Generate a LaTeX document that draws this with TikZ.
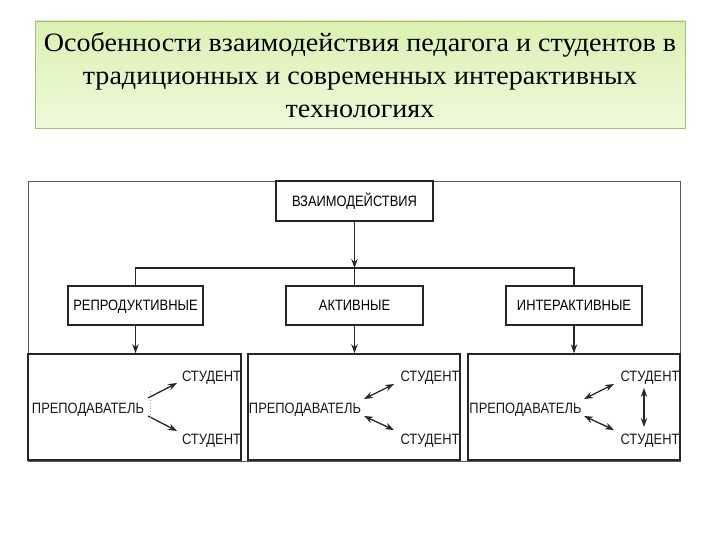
\documentclass[tikz,border=0pt]{standalone}
\usepackage{fontspec}
\setmainfont{Liberation Serif}
\newfontfamily\labfont[FakeStretch=0.86]{Liberation Sans}
\newfontfamily\ttlfont[FakeStretch=1.06]{Liberation Serif}
\usetikzlibrary{arrows.meta}
\definecolor{titletop}{HTML}{DAF1B2}
\definecolor{titlebot}{HTML}{EEFADA}
\definecolor{titleedge}{HTML}{A9BF78}
\definecolor{boxline}{HTML}{262626}
\begin{document}
\begin{tikzpicture}[x=1pt,y=-1pt,
  box/.style={draw=boxline,line width=1.6pt,rectangle,inner sep=0pt,text height=10.7pt,text depth=0pt,font=\labfont\fontsize{15}{17}\selectfont},
  lab/.style={inner sep=0pt,text height=10.7pt,text depth=0pt,font=\labfont\fontsize{15}{17}\selectfont,text=black!90},
  conn/.style={draw=black!85,line width=1.3pt},
  tip/.style={-{Stealth[length=9pt,width=6.5pt]}},
  dtip/.style={{Stealth[length=9pt,width=6.5pt]}-{Stealth[length=9pt,width=6.5pt]}}
]
\useasboundingbox (0,0) rectangle (720,540);
% title
\node[draw=titleedge,line width=0.8pt,top color=titletop,bottom color=titlebot,
  minimum width=650pt,minimum height=107pt,inner sep=0pt] (title) at (360,74.5) {};
\node[align=center,inner sep=0pt,anchor=base,font=\ttlfont\fontsize{26.5}{33}\selectfont] (ttl) at (360,118)
  {Особенности взаимодействия педагога и студентов в\\ традиционных и современных интерактивных\\ технологиях};
% outer frame
\draw[draw=black!65,line width=0.9pt] (28,181) rectangle (680,461);
% top box
\node[box,fill=white,minimum width=157pt,minimum height=40pt] (top) at (354.5,201) {ВЗАИМОДЕЙСТВИЯ};
% level 2
\node[box,minimum width=135pt,minimum height=39pt] (rep) at (135.5,305.5) {РЕПРОДУКТИВНЫЕ};
\node[box,minimum width=137pt,minimum height=39pt] (akt) at (354.5,305.5) {АКТИВНЫЕ};
\node[box,minimum width=136pt,minimum height=39pt] (int) at (574,305.5) {ИНТЕРАКТИВНЫЕ};
% level 3 boxes
\node[box,minimum width=213pt,minimum height=106pt] (b1) at (134.5,407) {};
\node[box,minimum width=212pt,minimum height=106pt] (b2) at (354,407) {};
\node[box,minimum width=212pt,minimum height=106pt] (b3) at (574,407) {};
% tree connectors
\coordinate (j) at (354.5,268);
\draw[conn,tip] (top.south) -- (j);
\draw[conn] (rep.north) -- (rep.north |- j) -- (int.north |- j) -- (int.north);
\draw[conn] (j) -- (akt.north);
\draw[conn,tip] (rep.south) -- (rep.south |- b1.north);
\draw[conn,tip] (akt.south) -- (akt.south |- b2.north);
\draw[conn,tip] (int.south) -- (int.south |- b3.north);
% box 1
\node[lab] (t1) at (88,408) {ПРЕПОДАВАТЕЛЬ};
\node[lab] (s1a) at (211.5,376) {СТУДЕНТ};
\node[lab] (s1b) at (211.5,439) {СТУДЕНТ};
\coordinate (a1s) at (148,398); \coordinate (a1e) at (177,383);
\coordinate (a2s) at (148,416); \coordinate (a2e) at (177,431);
\draw[conn,tip] (a1s) -- (a1e);
\draw[conn,tip] (a2s) -- (a2e);
\coordinate (d1) at (150,391); \coordinate (d2) at (150,421);
\draw[black!35,line width=0.9pt,dotted] (d1) -- (d2);
% box 2
\node[lab] (t2) at (305,408) {ПРЕПОДАВАТЕЛЬ};
\node[lab] (s2a) at (430,376) {СТУДЕНТ};
\node[lab] (s2b) at (430,439) {СТУДЕНТ};
\coordinate (b1s) at (364,399); \coordinate (b1e) at (394,384);
\coordinate (b2s) at (364,416); \coordinate (b2e) at (394,430);
\draw[conn,dtip] (b1s) -- (b1e);
\draw[conn,dtip] (b2s) -- (b2e);
% box 3
\node[lab] (t3) at (525.5,408) {ПРЕПОДАВАТЕЛЬ};
\node[lab] (s3a) at (650,376) {СТУДЕНТ};
\node[lab] (s3b) at (650,439) {СТУДЕНТ};
\coordinate (c1s) at (584,399); \coordinate (c1e) at (614,384);
\coordinate (c2s) at (584,416); \coordinate (c2e) at (614,430);
\draw[conn,dtip] (c1s) -- (c1e);
\draw[conn,dtip] (c2s) -- (c2e);
\coordinate (v1) at (644,388); \coordinate (v2) at (644,427);
\draw[conn,dtip] (v1) -- (v2);
\end{tikzpicture}
\end{document}
